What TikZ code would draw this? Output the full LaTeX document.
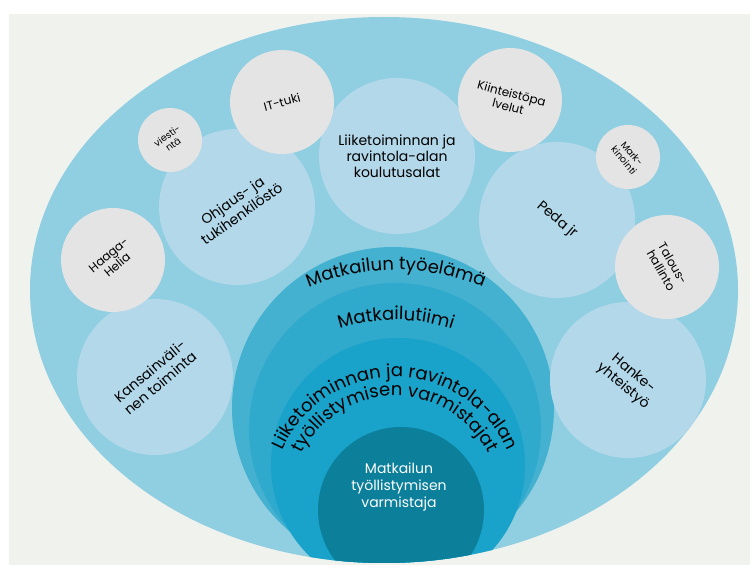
\documentclass[tikz,border=0pt]{standalone}
\usepackage{fontspec}
\setmainfont{Poppins}
\usetikzlibrary{decorations.text}
\definecolor{panelbg}{HTML}{F0F2EE}
\definecolor{ellbg}{HTML}{8FCFE1}
\definecolor{bluebg}{HTML}{B3D8EA}
\definecolor{graybg}{HTML}{E4E4E4}
\definecolor{ringa}{HTML}{44B1D0}
\definecolor{ringb}{HTML}{2FA9CC}
\definecolor{ringc}{HTML}{19A2CA}
\definecolor{coredark}{HTML}{0C7F9B}
\newcommand{\curvefont}{\fontsize{18}{20}\selectfont}
\begin{document}
\begin{tikzpicture}[x=1pt,y=1pt,
	bluec/.style={shape=circle,fill=bluebg,inner sep=0pt,minimum size=156,align=center,font=\fontsize{14}{16}\selectfont},
	grayc/.style={shape=circle,fill=graybg,inner sep=0pt,minimum size=104,align=center,font=\fontsize{12}{13.5}\selectfont},
	smallc/.style={grayc,minimum size=64,font=\fontsize{9.5}{10.5}\selectfont},
	ring/.style={shape=circle,inner sep=0pt},
	curved/.style={decorate,decoration={text along path,text align=center,text={|\curvefont|#1}}}]
	\useasboundingbox (0,0) rectangle (750,565);
	\fill[white] (0,0) rectangle (750,565);
	\fill[panelbg] (9,0) rectangle (750,551);
	\fill[ellbg] (384,275) ellipse [x radius=354, y radius=273];
	
	\begin{scope}
	\clip (384,275) ellipse [x radius=354, y radius=273];
	\node[ring,fill=ringa,minimum size=322] (tyoelama) at (393,157) {};
	\node[ring,fill=ringb,minimum size=292] (tiimi) at (395,136) {};
	\node[ring,fill=ringc,minimum size=254] (varmistajat) at (398,100) {};
	\node[ring,fill=coredark,minimum size=166] (ydin) at (401,55) {};
	\end{scope}
	
	\node[bluec,rotate=35] (ohjaus) at (237,358)  {Ohjaus- ja\\tukihenkilöstö};
	\node[bluec] (koulutus) at (397,409)           {Liiketoiminnan ja\\ravintola-alan\\koulutusalat};
	\node[bluec,rotate=-40] (peda) at (557,345)    {Peda jr};
	\node[bluec,rotate=40] (kv) at (155,188)       {Kansainväli-\\nen toiminta};
	\node[bluec,rotate=-40] (hanke) at (628,185)   {Hanke-\\yhteistyö};
	
	\node[smallc,rotate=35] (viesti) at (170,425)  {viesti-\\ntä};
	\node[grayc,rotate=15] (ittuki) at (282,463)   {IT-tuki};
	\node[grayc,rotate=40] (haaga) at (113,305)    {Haaga-\\Helia};
	\node[grayc,rotate=-15] (kiint) at (510,465)   {Kiinteistöpa\\lvelut};
	\node[smallc,rotate=-50] (mark) at (628,408)   {Mark-\\kinointi};
	\node[grayc,rotate=-60] (talous) at (667,298)  {Talous-\\hallinto};
	
	\path[curved={Matkailun työelämä}] (396,65) ++(170:230) arc[start angle=170, end angle=10, radius=230];
	\path[curved={Matkailutiimi}] (396,65) ++(170:180) arc[start angle=170, end angle=10, radius=180];
	\path[curved={Liiketoiminnan ja ravintola-alan}] (395,65) ++(200:123) arc[start angle=200, end angle=-20, radius=123];
	\path[curved={työllistymisen varmistajat}] (395,65) ++(200:104) arc[start angle=200, end angle=-20, radius=104];
	
	\node[white,align=center,font=\fontsize{14}{17}\selectfont] (ydinteksti) at (399,78) {Matkailun\\työllistymisen\\varmistaja};
\end{tikzpicture}
\end{document}
